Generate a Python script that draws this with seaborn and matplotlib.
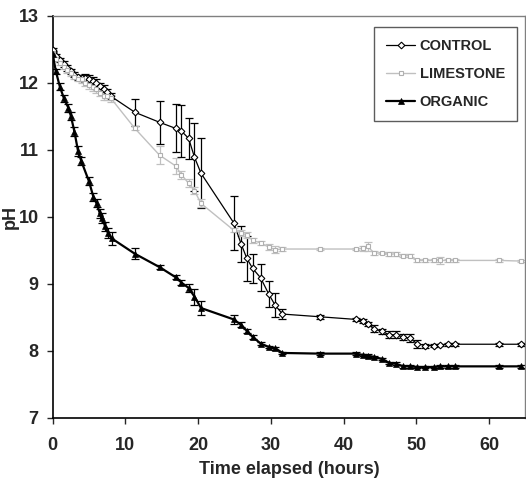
import matplotlib
matplotlib.use("Agg")
import matplotlib.pyplot as plt
import pandas as pd
import seaborn as sns

# time points (hours)
early_t = [0, 0.5, 1, 1.5, 2, 2.5, 3, 3.5, 4, 4.5, 5, 5.5, 6, 6.5, 7, 7.5, 8]
organic_early_t = [0, 0.45, 1.0, 1.55, 2.15, 2.5, 3.0, 3.5, 3.95, 5.0, 5.6, 6.05, 6.5, 6.85, 7.2, 7.6, 8.1]
late_t = [11.3, 14.7, 16.9, 17.7, 18.7, 19.5, 20.4, 24.9, 25.9, 26.7, 27.5, 28.6, 29.7, 30.6, 31.6,
          36.7, 41.7, 42.6, 43.3, 44.2, 45.3, 46.3, 47.2, 48.2, 49.1, 50.1, 51.2, 52.4, 53.3, 54.3,
          55.3, 61.4, 64.4]

control_ph = [12.49, 12.40, 12.34, 12.28, 12.22, 12.17, 12.12, 12.08, 12.07, 12.07, 12.06, 12.03,
              11.99, 11.95, 11.91, 11.86, 11.80,
              11.56, 11.41, 11.32, 11.28, 11.17, 10.89, 10.65, 9.91, 9.60, 9.38, 9.23, 9.09, 8.85,
              8.68, 8.55, 8.51, 8.47, 8.45, 8.40, 8.33, 8.29, 8.24, 8.24, 8.21, 8.19, 8.11, 8.08,
              8.08, 8.09, 8.10, 8.10, 8.10, 8.10]
control_err = [0.03, 0.03, 0.03, 0.04, 0.04, 0.04, 0.04, 0.04, 0.05, 0.06, 0.05, 0.06, 0.06, 0.05,
               0.05, 0.05, 0.04,
               0.20, 0.32, 0.36, 0.39, 0.30, 0.51, 0.52, 0.40, 0.27, 0.33, 0.22, 0.20, 0.20, 0.18,
               0.07, 0.03, 0.02, 0.03, 0.03, 0.05, 0.04, 0.05, 0.05, 0.05, 0.06, 0.06, 0.03, 0.02,
               0.02, 0.02, 0.02, 0.02, 0.02]

limestone_ph = [12.45, 12.36, 12.30, 12.24, 12.19, 12.14, 12.09, 12.06, 12.05, 12.00, 11.96, 11.93,
                11.90, 11.85, 11.80, 11.80, 11.77,
                11.32, 10.92, 10.76, 10.63, 10.50, 10.39, 10.20, 9.80, 9.76, 9.73, 9.65, 9.61, 9.55,
                9.51, 9.52, 9.52, 9.52, 9.53, 9.56, 9.46, 9.46, 9.44, 9.45, 9.42, 9.42, 9.35, 9.35,
                9.35, 9.35, 9.35, 9.35, 9.35, 9.34]
limestone_err = [0.03, 0.03, 0.04, 0.04, 0.04, 0.04, 0.04, 0.04, 0.05, 0.05, 0.05, 0.05, 0.05, 0.05,
                 0.05, 0.05, 0.05,
                 0.03, 0.13, 0.12, 0.06, 0.06, 0.05, 0.06, 0.03, 0.05, 0.04, 0.04, 0.03, 0.04, 0.05,
                 0.03, 0.02, 0.02, 0.04, 0.07, 0.03, 0.02, 0.03, 0.03, 0.02, 0.02, 0.02, 0.02, 0.02,
                 0.05, 0.02, 0.02, 0.02, 0.02]

organic_ph = [12.43, 12.17, 11.94, 11.77, 11.63, 11.51, 11.27, 10.98, 10.83, 10.53, 10.30, 10.20,
              10.05, 9.98, 9.86, 9.76, 9.68,
              9.45, 9.25, 9.10, 9.02, 8.94, 8.81, 8.64, 8.47, 8.39, 8.30, 8.21, 8.11, 8.06, 8.04,
              7.97, 7.96, 7.96, 7.94, 7.93, 7.91, 7.88, 7.82, 7.81, 7.77, 7.77, 7.76, 7.76, 7.76,
              7.77, 7.77, 7.77, 7.77, 7.77]
organic_err = [0.04, 0.04, 0.05, 0.05, 0.06, 0.06, 0.07, 0.07, 0.06, 0.06, 0.06, 0.06, 0.07, 0.07,
               0.07, 0.08, 0.10,
               0.08, 0.03, 0.03, 0.04, 0.06, 0.12, 0.10, 0.07, 0.04, 0.03, 0.03, 0.02, 0.02, 0.02,
               0.02, 0.02, 0.02, 0.02, 0.02, 0.02, 0.02, 0.02, 0.02, 0.02, 0.02, 0.02, 0.02, 0.02,
               0.02, 0.02, 0.02, 0.02, 0.02]

sns.set_style("ticks")
plt.rcParams['font.family'] = ['Liberation Sans', 'DejaVu Sans']
plt.rcParams['font.weight'] = 'bold'

series = [
    ('CONTROL', early_t + late_t, control_ph, control_err,
     dict(color='black', lw=0.9, marker='D', ms=3.4, mfc='white', mec='black', mew=0.8), 'black'),
    ('LIMESTONE', early_t + late_t, limestone_ph, limestone_err,
     dict(color='#c0c0c0', lw=1.0, marker='s', ms=3.4, mfc='white', mec='#b0b0b0', mew=0.8), '#c0c0c0'),
    ('ORGANIC', organic_early_t + late_t, organic_ph, organic_err,
     dict(color='black', lw=1.6, marker='^', ms=4.6, mfc='black', mec='black', mew=0.5), 'black'),
]

fig = plt.figure(figsize=(5.26, 4.83), dpi=100)
ax = fig.add_axes([0.100, 0.1346, 0.899, 0.8329])

for name, t, ph, err, style, ecol in series:
    df = pd.DataFrame({'Time': t, 'pH': ph})
    ax.errorbar(df['Time'], df['pH'], yerr=err, fmt='none', ecolor=ecol,
                elinewidth=0.9, capsize=2.6, capthick=0.9, zorder=2)
    sns.lineplot(data=df, x='Time', y='pH', ax=ax, label=name, sort=False,
                 color=style['color'], linewidth=style['lw'], marker=style['marker'],
                 markersize=style['ms'], markerfacecolor=style['mfc'],
                 markeredgecolor=style['mec'], markeredgewidth=style['mew'], zorder=3)

ax.set_xlim(0, 65)
ax.set_ylim(7, 13)
ax.set_xticks([0, 10, 20, 30, 40, 50, 60])
ax.set_yticks([7, 8, 9, 10, 11, 12, 13])
ax.tick_params(axis='both', labelsize=13, length=4, width=1, direction='out', pad=10)
ax.tick_params(axis='y', pad=6)
for lab in ax.get_xticklabels() + ax.get_yticklabels():
    lab.set_fontweight('bold')
ax.set_xlabel('Time elapsed (hours)', fontsize=13, fontweight='bold', labelpad=5)
ax.set_ylabel('pH', fontsize=13, fontweight='bold')
ax.yaxis.set_label_coords(-0.072, 0.5)

for s in ['left', 'bottom']:
    ax.spines[s].set_color('black')
    ax.spines[s].set_linewidth(1.2)
for s in ['top', 'right']:
    ax.spines[s].set_color('#808080')
    ax.spines[s].set_linewidth(1.0)

leg = ax.legend(loc='upper right', bbox_to_anchor=(0.983, 0.973), frameon=True, fancybox=False,
                edgecolor='#333333', fontsize=10.5, handlelength=2.0, handletextpad=0.3,
                labelspacing=0.95, borderpad=0.85, borderaxespad=0)
leg.get_frame().set_linewidth(1.0)
for txt in leg.get_texts():
    txt.set_fontweight('bold')

plt.savefig('out.png', dpi=100)
